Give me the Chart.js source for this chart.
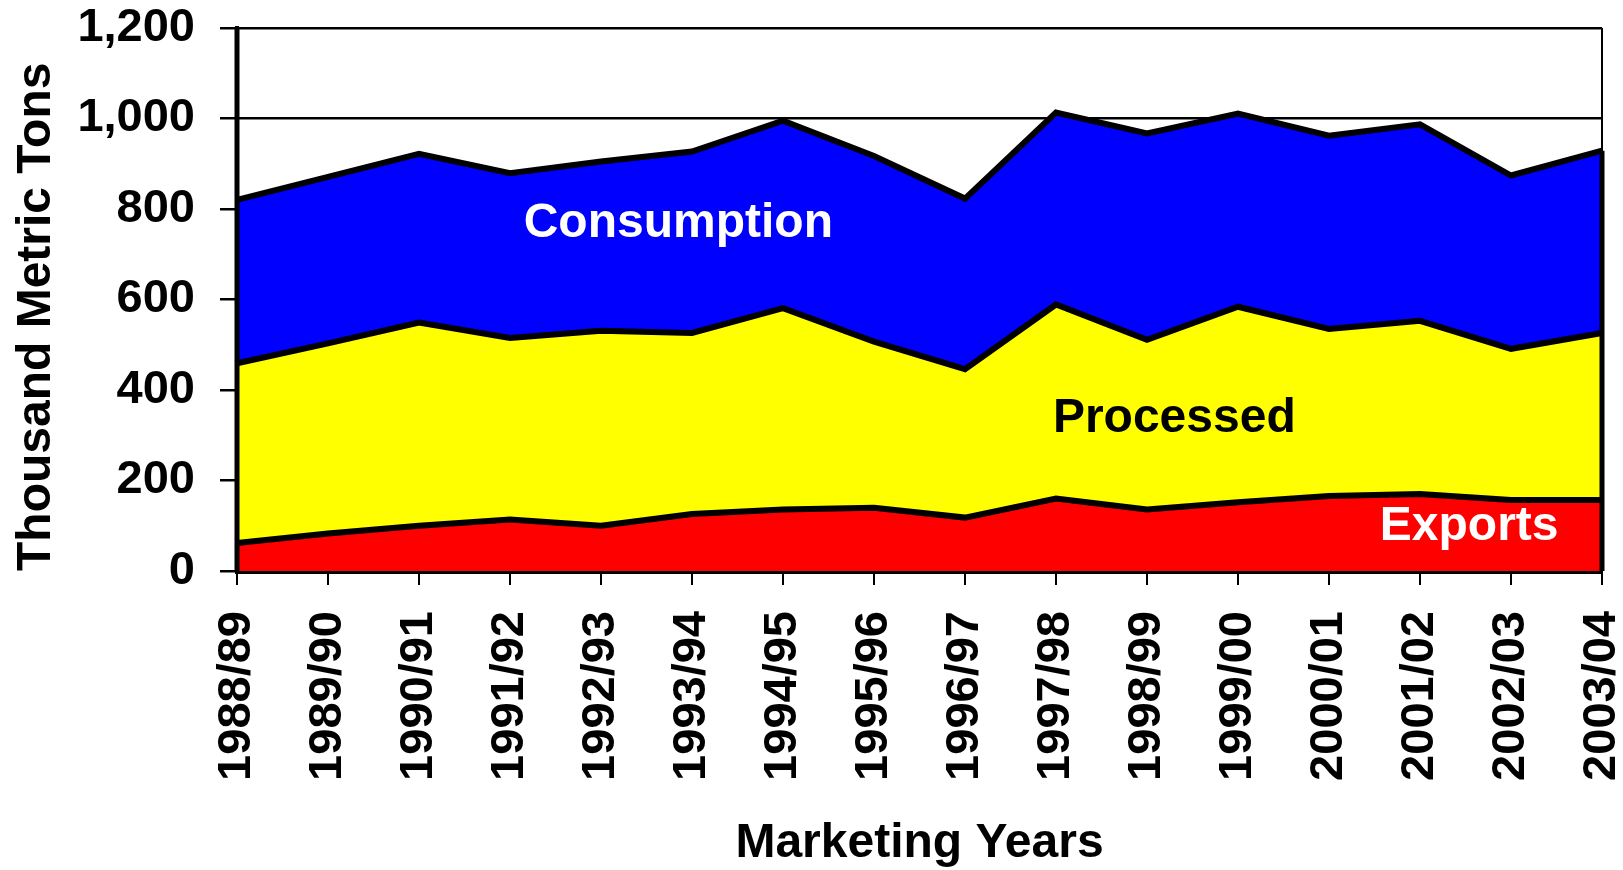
<!DOCTYPE html>
<html lang="en">
<head>
  <meta charset="UTF-8" />
  <title>Marketing Years - Thousand Metric Tons</title>
  <script src="https://cdn.jsdelivr.net/npm/chart.js"></script>
  <style>
    html, body { margin: 0; padding: 0; background: #fff; }
    #wrap { width: 1623px; height: 870px; }
  </style>
</head>
<body>
  <div id="wrap"><canvas id="chart"></canvas></div>

  <script>
    const years = ['1988/89', '1989/90', '1990/91', '1991/92', '1992/93', '1993/94', '1994/95', '1995/96',
      '1996/97', '1997/98', '1998/99', '1999/00', '2000/01', '2001/02', '2002/03', '2003/04'];

    // thousand metric tons, stacked bottom to top
    const exportsVals = [62, 83, 100, 114, 100, 126, 136, 140, 118, 160, 136, 152, 166, 170, 157, 157];
    const processedVals = [397, 420, 449, 401, 431, 400, 445, 367, 328, 429, 375, 432, 369, 383, 334, 369];
    const consumptionVals = [361, 368, 373, 364, 374, 401, 414, 410, 377, 424, 456, 427, 427, 434, 383, 403];

    const yTicks = [0, 200, 400, 600, 800, 1000, 1200];

    // in-chart series names (x = category index, y = value)
    const seriesNotes = [
      { text: 'Consumption', x: 4.85, y: 767, color: '#fff' },
      { text: 'Processed', x: 10.3, y: 336, color: '#000' },
      { text: 'Exports', x: 13.54, y: 97, color: '#fff' }
    ];

    const FONT = '"Liberation Sans", Arial, sans-serif';

    const frame = {
      id: 'frame',
      afterDatasetsDraw(chart) {
        const { ctx, chartArea: a, scales } = chart;
        const top = chart.getDatasetMeta(2).data;
        ctx.save();
        ctx.strokeStyle = '#000';
        // right border
        ctx.lineWidth = 2;
        ctx.beginPath();
        ctx.moveTo(a.right, a.top);
        ctx.lineTo(a.right, a.bottom);
        ctx.stroke();
        // area edge on the right
        ctx.lineWidth = 5;
        ctx.beginPath();
        ctx.moveTo(a.right, top[top.length - 1].y);
        ctx.lineTo(a.right, a.bottom);
        ctx.stroke();
        // left axis
        ctx.beginPath();
        ctx.moveTo(a.left, a.top - 1);
        ctx.lineTo(a.left, a.bottom);
        ctx.stroke();

        ctx.font = 'bold 48px ' + FONT;
        ctx.textAlign = 'center';
        ctx.textBaseline = 'middle';
        seriesNotes.forEach(n => {
          ctx.fillStyle = n.color;
          ctx.fillText(n.text, scales.x.getPixelForValue(n.x), scales.y.getPixelForValue(n.y));
        });
        ctx.restore();
      }
    };

    function noOverflow(s) {
      s.paddingTop = 0;
      s.paddingBottom = 0;
      s.paddingLeft = 0;
      s.paddingRight = 0;
    }

    const common = {
      fill: '-1',
      borderColor: '#000',
      borderWidth: 6,
      borderJoinStyle: 'miter',
      pointRadius: 0,
      tension: 0
    };

    new Chart(document.getElementById('chart'), {
      type: 'line',
      data: {
        labels: years,
        datasets: [
          { ...common, label: 'Exports', data: exportsVals, backgroundColor: '#ff0000', fill: 'origin' },
          { ...common, label: 'Processed', data: processedVals, backgroundColor: '#ffff00' },
          { ...common, label: 'Consumption', data: consumptionVals, backgroundColor: '#0000ff' }
        ]
      },
      options: {
        responsive: true,
        maintainAspectRatio: false,
        animation: false,
        layout: { padding: { top: 28, right: 21, left: 0, bottom: 0 } },
        plugins: {
          legend: { display: false },
          tooltip: { enabled: false }
        },
        scales: {
          x: {
            z: 1,
            offset: false,
            afterFit(s) { s.height = 299; noOverflow(s); },
            grid: { drawOnChartArea: false, color: '#000', lineWidth: 2, tickLength: 14 },
            border: { display: true, color: '#000', width: 5 },
            ticks: {
              autoSkip: false,
              minRotation: 90,
              maxRotation: 90,
              padding: 26,
              color: '#000',
              font: { family: FONT, size: 47, weight: 'bold' }
            },
            title: {
              display: true,
              text: 'Marketing Years',
              color: '#000',
              padding: { top: 0, bottom: 0 },
              font: { family: FONT, size: 48, weight: 'bold', lineHeight: 1.1 }
            }
          },
          y: {
            stacked: true,
            min: 0,
            max: 1200,
            afterFit(s) { s.width = 237; noOverflow(s); },
            afterBuildTicks(s) { s.ticks = yTicks.map(v => ({ value: v })); },
            grid: { color: '#000', lineWidth: 2.5, tickLength: 17 },
            border: { display: true, color: '#000', width: 4 },
            ticks: {
              padding: 25,
              color: '#000',
              font: { family: FONT, size: 47, weight: 'bold' },
              callback: v => v.toLocaleString('en-US')
            },
            title: {
              display: true,
              text: 'Thousand Metric Tons',
              align: 'start',
              color: '#000',
              padding: { top: 8, bottom: 0 },
              font: { family: FONT, size: 48, weight: 'bold' }
            }
          }
        }
      },
      plugins: [frame]
    });
  </script>
</body>
</html>
